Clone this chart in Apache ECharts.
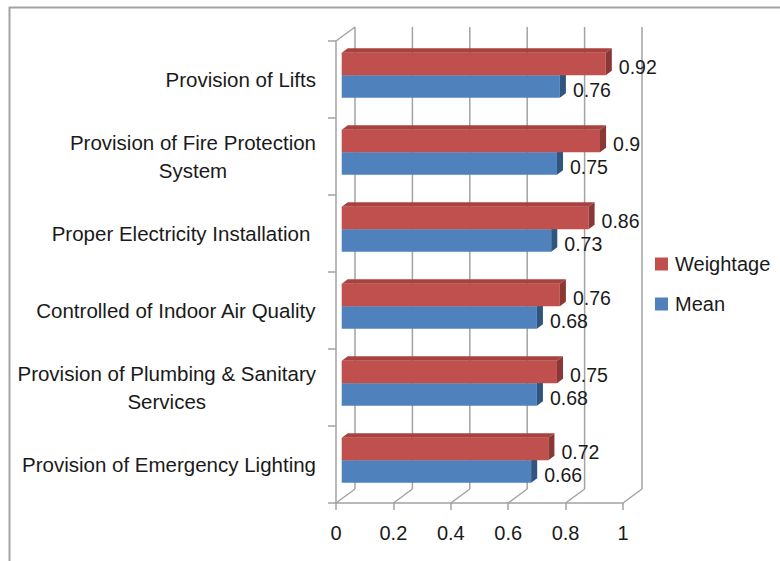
<!DOCTYPE html>
<html>
<head>
<meta charset="utf-8">
<title>Weightage and Mean</title>
<script src="https://cdn.jsdelivr.net/npm/echarts@6/dist/echarts.min.js"></script>
<style>
    html,body{margin:0;padding:0;background:#fff;}
    #chart{width:780px;height:561px;}
</style>
</head>
<body>
<div id="chart"></div>
<script>
// data, top row first
var categories = [
    "Provision of Lifts",
    "Provision of Fire Protection\nSystem",
    "Proper Electricity Installation ",
    "Controlled of Indoor Air Quality",
    "Provision of Plumbing & Sanitary\nServices",
    "Provision of Emergency Lighting"
];
var weightage = [0.92, 0.9, 0.86, 0.76, 0.75, 0.72];
var mean = [0.76, 0.75, 0.73, 0.68, 0.68, 0.66];
var xTicks = [0, 0.2, 0.4, 0.6, 0.8, 1];

var FONT = "'Liberation Sans', Arial, sans-serif";
var GRAY = "#A3A3A3";
var TEXT = "#1a1a1a";
var DEPTH = [19, -14];   // offset of the back wall

var colors = {
    Weightage: {front: "#C0504D", top: "#A9423F", side: "#8A3835"},
    Mean: {front: "#4F81BD", top: "#4672A8", side: "#30557F"}
};

// 3d box for one bar
function bar3d(api, col, upper){
    var val = api.value(0), idx = api.value(1);
    var c0 = api.coord([0, idx]), c1 = api.coord([val, idx]);
    var band = api.size([0, 1])[1];
    var h = band * 0.292;
    var yTop = upper ? c0[1] - h : c0[1];
    var yBot = yTop + h;
    var fx = DEPTH[0] * 0.3, fy = DEPTH[1] * 0.3;
    var bx = DEPTH[0] * 0.62, by = DEPTH[1] * 0.62;
    var x0 = c0[0], x1 = c1[0];
    return {
        type: "group",
        children: [
            {type: "rect", shape: {x: x0 + fx, y: yTop + fy, width: x1 - x0, height: h},
                style: {fill: col.front}},
            {type: "polygon", shape: {points: [[x0 + fx, yTop + fy], [x1 + fx, yTop + fy], [x1 + bx, yTop + by], [x0 + bx, yTop + by]]},
                style: {fill: col.top}},
            {type: "polygon", shape: {points: [[x1 + fx, yTop + fy], [x1 + bx, yTop + by], [x1 + bx, yBot + by], [x1 + fx, yBot + fy]]},
                style: {fill: col.side}},
            {type: "text", style: {text: String(val), x: x1 + bx + 7, y: (yTop + yBot) / 2 + fy + 3,
                fill: TEXT, font: "19.5px " + FONT, verticalAlign: "middle", align: "left"}}
        ]
    };
}

// back wall, floor diagonals and top edge of the left wall
function walls(params, api){
    var cs = params.coordSys;
    var floorY = cs.y + cs.height, topY = cs.y;
    var children = [];
    var ls = {stroke: GRAY, lineWidth: 1.5};
    xTicks.forEach(function(t){
        var x = api.coord([t, 0])[0];
        children.push({type: "line", shape: {x1: x, y1: floorY, x2: x + DEPTH[0], y2: floorY + DEPTH[1]}, style: ls});
        children.push({type: "line", shape: {x1: x + DEPTH[0], y1: floorY + DEPTH[1], x2: x + DEPTH[0], y2: topY + DEPTH[1]}, style: ls});
    });
    children.push({type: "line", shape: {x1: cs.x, y1: topY, x2: cs.x + DEPTH[0], y2: topY + DEPTH[1]}, style: ls});
    return {type: "group", children: children};
}

var chart = echarts.init(document.getElementById("chart"), null, {renderer: "svg"});
var option = {
    animation: false,
    backgroundColor: "#fff",
    graphic: [{
        type: "rect", left: 7, top: 5, z: 100,
        shape: {width: 900, height: 700},
        style: {fill: "none", stroke: GRAY, lineWidth: 2}
    }],
    grid: {left: 336, right: 157, top: 41, bottom: 58},
    legend: {
        data: ["Weightage", "Mean"],
        orient: "vertical",
        left: 655, top: 254,
        padding: 0,
        itemWidth: 13, itemHeight: 13, itemGap: 20,
        icon: "rect",
        textStyle: {fontFamily: FONT, fontSize: 20, lineHeight: 20, color: TEXT, padding: [0, 0, 0, 2]}
    },
    xAxis: {
        type: "value", min: 0, max: 1, interval: 0.2,
        splitLine: {show: false},
        axisLine: {show: true, lineStyle: {color: GRAY, width: 1.5}},
        axisTick: {show: true, length: 7, lineStyle: {color: GRAY, width: 1.5}},
        axisLabel: {margin: 20, fontFamily: FONT, fontSize: 20, color: TEXT}
    },
    yAxis: {
        type: "category", data: categories, inverse: true,
        axisLine: {show: true, lineStyle: {color: GRAY, width: 1.5}},
        axisTick: {show: true, length: 8, lineStyle: {color: GRAY, width: 1.5}},
        axisLabel: {
            margin: 20, color: TEXT, fontFamily: FONT, fontSize: 20.5, lineHeight: 28,
            formatter: function(v){
                return v.split("\n").map(function(l){ return "{c|" + l + "}"; }).join("\n");
            },
            rich: {c: {align: "center", fontFamily: FONT, fontSize: 20.5, lineHeight: 28, color: TEXT}}
        }
    },
    series: [
        {
            type: "custom", name: "walls", z: 1, silent: true,
            data: [[0, 0]],
            renderItem: walls
        },
        {
            type: "custom", name: "Mean", z: 2,
            itemStyle: {color: colors.Mean.front},
            data: mean.map(function(v, i){ return [v, i]; }),
            encode: {x: 0, y: 1},
            renderItem: function(params, api){ return bar3d(api, colors.Mean, false); }
        },
        {
            type: "custom", name: "Weightage", z: 3,
            itemStyle: {color: colors.Weightage.front},
            data: weightage.map(function(v, i){ return [v, i]; }),
            encode: {x: 0, y: 1},
            renderItem: function(params, api){ return bar3d(api, colors.Weightage, true); }
        }
    ]
};
chart.setOption(option);
</script>
</body>
</html>
